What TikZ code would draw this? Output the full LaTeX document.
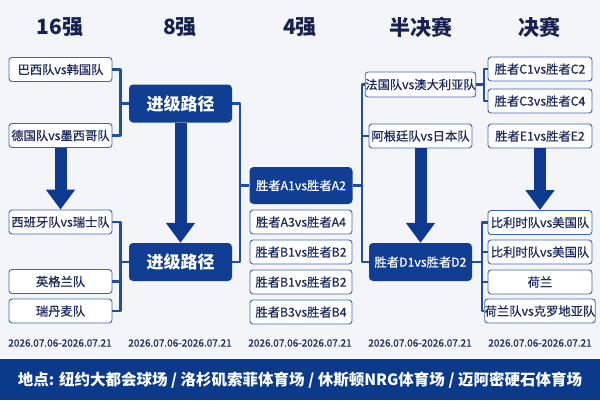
\documentclass[tikz,border=0pt]{standalone}
\usepackage{fontspec}
\setmainfont{Noto Sans CJK SC}
\newfontfamily\cupfont{Noto Sans CJK SC}[FakeBold=0.6]
\usetikzlibrary{arrows.meta,calc}
\definecolor{cupPaper}{HTML}{F3F5F9}
\definecolor{cupInk}{HTML}{17214F}
\definecolor{cupText}{HTML}{1C2A5C}
\definecolor{cupEdge}{HTML}{3C66B3}
\definecolor{cupDeep}{HTML}{0F3E92}
\definecolor{cupLink}{HTML}{1F4EA3}
\definecolor{cupArrow}{HTML}{0D3A8E}
\definecolor{cupBand}{HTML}{0B3A8A}

\begin{document}
\begin{tikzpicture}[x=1pt,y=-1pt,line join=round]
\path[fill=cupPaper] (0,0) rectangle (600,400);
\tikzset{team/.style={draw=cupEdge,fill=white,rounded corners=3pt,line width=0.9pt,minimum width=103pt,minimum height=24pt,inner sep=0pt,text=cupText,font=\cupfont\fontsize{12.3}{14}\selectfont},
  path/.style={fill=cupDeep,rounded corners=4pt,minimum width=103pt,minimum height=38pt,inner sep=0pt,text=white,font=\bfseries\fontsize{17}{19}\selectfont},
  winner/.style={fill=cupDeep,rounded corners=4pt,minimum width=103pt,minimum height=37pt,inner sep=0pt,text=white,font=\cupfont\fontsize{12.3}{14}\selectfont},
  link/.style={draw=cupLink,line width=2.2pt},
  bigarrow/.style={draw=cupArrow,line width=12pt,-{Triangle[width=28pt,length=20pt]}},
  head/.style={text=cupInk,font=\bfseries\fontsize{21}{23}\selectfont},
  dates/.style={text=cupText,font=\cupfont\fontsize{10}{12}\selectfont}}
\node[head] (h1) at (60,27) {16强}; \node[head] (h2) at (180,27) {8强}; \node[head] (h3) at (300,27) {4强};
\node[head] (h4) at (421,27) {半决赛}; \node[head] (h5) at (539,27) {决赛};
\node[team] (m1) at (60.5,69.5) {巴西队vs韩国队};
\node[team] (m2) at (60.5,135.5) {德国队vs墨西哥队};
\node[team] (m3) at (60.5,222) {西班牙队vs瑞士队};
\node[team] (m4) at (60.5,281.5) {英格兰队};
\node[team] (m5) at (60.5,311) {瑞丹麦队};
\node[path] (j1) at (180.5,103.5) {进级路径};
\node[path] (j2) at (180.5,262) {进级路径};
\node[winner] (q1) at (301,185.5) {胜者A1vs胜者A2};
\node[team,minimum width=102pt] (q2) at (301,222) {胜者A3vs胜者A4};
\node[team,minimum width=102pt] (q3) at (301,252) {胜者B1vs胜者B2};
\node[team,minimum width=102pt] (q4) at (301,282) {胜者B1vs胜者B2};
\node[team,minimum width=102pt] (q5) at (301,312) {胜者B3vs胜者B4};
\node[team,minimum height=25pt] (s1) at (420.5,84.5) {法国队vs澳大利亚队};
\node[team] (s2) at (420.5,136) {阿根廷队vs日本队};
\node[winner,minimum height=38pt] (d1) at (420.5,262) {胜者D1vs胜者D2};
\node[team,minimum width=104pt] (f1) at (540,69) {胜者C1vs胜者C2};
\node[team,minimum width=104pt] (f2) at (540,101) {胜者C3vs胜者C4};
\node[team,minimum width=104pt] (f3) at (540,136) {胜者E1vs胜者E2};
\node[team,minimum width=104pt] (g1) at (540,222.5) {比利时队vs美国队};
\node[team,minimum width=104pt] (g2) at (540,252) {比利时队vs美国队};
\node[team,minimum width=104pt] (g3) at (540,282) {荷兰};
\node[team,minimum width=104pt] (g4) at (540,311) {荷兰队vs克罗地亚队};
\draw[link] (m1.east) -- ++(8,0) coordinate (k1) |- (m2.east); \draw[link] (k1 |- j1.west) -- (j1.west);
\draw[link] (m3.east) -- ++(8,0) coordinate (k2) |- (m5.east); \draw[link] (k2 |- m4.east) -- (m4.east); \draw[link] (k2 |- j2.west) -- (j2.west);
\draw[link] (j1.east) -- ++(8,0) coordinate (k3) |- (j2.east); \draw[link] (k3 |- q1.west) -- (q1.west);
\draw[link] (q1.east) -- ++(9,0) coordinate (k4); \draw[link] (s1.west) -- (s1.west -| k4) |- (d1.west); \draw[link] (k4 |- s2.west) -- (s2.west);
\draw[link] (s1.east) -- ++(8,0) coordinate (k5); \draw[link] (f1.west) -- (f1.west -| k5) |- (f2.west);
\draw[link] (d1.east) -- ++(10,0) coordinate (k6); \draw[link] (g1.west) -- (g1.west -| k6) |- (g4.west);
\draw[link] (k6 |- g2.west) -- (g2.west); \draw[link] (k6 |- g3.west) -- (g3.west);
\draw[bigarrow] (m2.south) -- (m3.north); \draw[bigarrow] (j1.south) -- (j2.north);
\draw[bigarrow] (s2.south) -- (d1.north); \draw[bigarrow] (f3.south) -- (g1.north);
\node[dates] (t1) at (60,343) {2026.07.06-2026.07.21}; \node[dates] (t2) at (180,343) {2026.07.06-2026.07.21};
\node[dates] (t3) at (300,343) {2026.07.06-2026.07.21}; \node[dates] (t4) at (420,343) {2026.07.06-2026.07.21};
\node[dates] (t5) at (540,343) {2026.07.06-2026.07.21};
\path[fill=cupBand] (0,359) rectangle (600,400);
\node[text=white,font=\bfseries\fontsize{15.5}{18}\selectfont] (venue) at (300,380) {地点: 纽约大都会球场 / 洛杉矶索菲体育场 / 休斯顿NRG体育场 / 迈阿密硬石体育场};
\end{tikzpicture}
\end{document}
